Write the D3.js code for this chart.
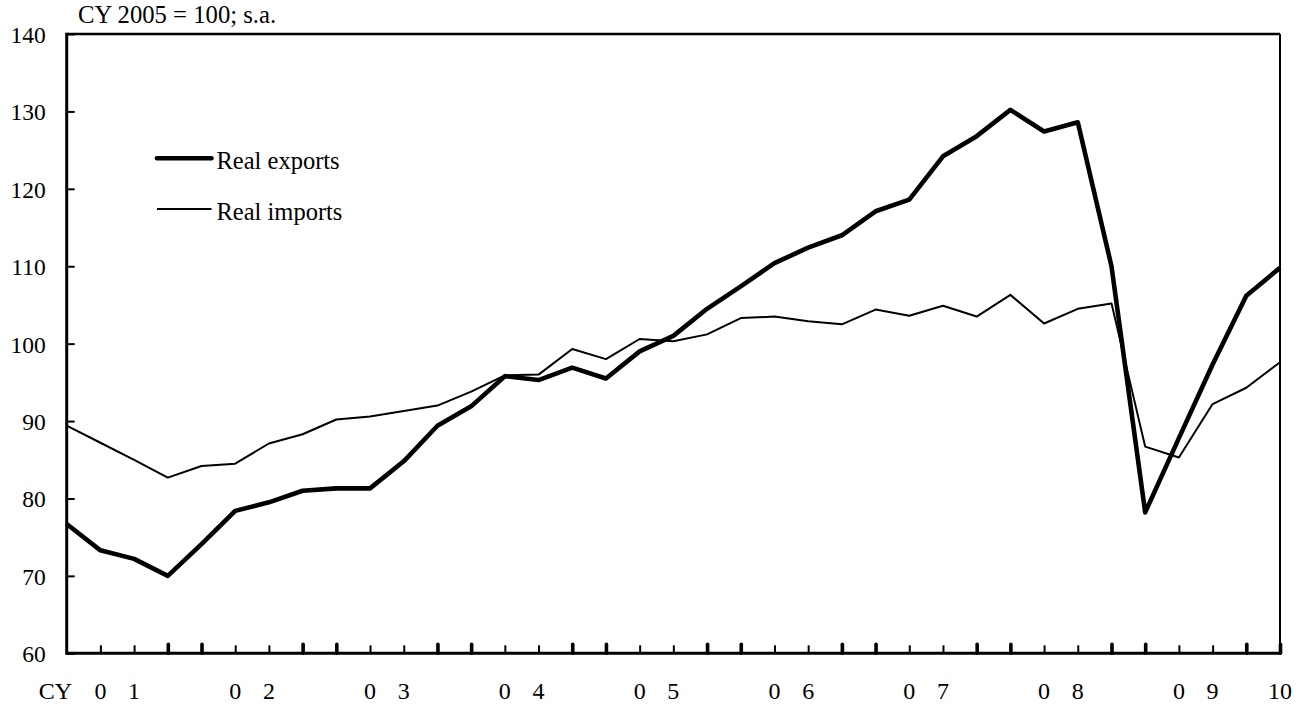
<!DOCTYPE html>
<html><head><meta charset="utf-8">
<script src="https://cdn.jsdelivr.net/npm/d3@7"></script>
<style>
body{margin:0;background:#fff;}
svg{display:block;}
text{font-family:"Liberation Serif","Times New Roman",serif;fill:#000;}
</style>
</head><body>
<svg id="c" width="1310" height="708"></svg>
<script>
// ---- data ----
const quarters = [
  "2001Q1","2001Q2","2001Q3","2001Q4",
  "2002Q1","2002Q2","2002Q3","2002Q4",
  "2003Q1","2003Q2","2003Q3","2003Q4",
  "2004Q1","2004Q2","2004Q3","2004Q4",
  "2005Q1","2005Q2","2005Q3","2005Q4",
  "2006Q1","2006Q2","2006Q3","2006Q4",
  "2007Q1","2007Q2","2007Q3","2007Q4",
  "2008Q1","2008Q2","2008Q3","2008Q4",
  "2009Q1","2009Q2","2009Q3","2009Q4",
  "2010Q1"
];
const realExports = [
  76.7, 73.3, 72.2, 70.0,
  74.1, 78.4, 79.5, 81.0,
  81.3, 81.3, 84.8, 89.4,
  91.9, 95.8, 95.3, 96.9,
  95.5, 99.0, 101.0, 104.5,
  107.4, 110.4, 112.4, 114.0,
  117.1, 118.6, 124.2, 126.8,
  130.2, 127.4, 128.6, 110.0,
  78.2, 87.8, 97.3, 106.2,
  109.8
];
const realImports = [
  89.4, 87.2, 85.0, 82.7,
  84.2, 84.5, 87.1, 88.3,
  90.2, 90.6, 91.3, 92.0,
  93.8, 95.9, 96.0, 99.3,
  98.0, 100.6, 100.3, 101.2,
  103.3, 103.5, 102.9, 102.5,
  104.4, 103.6, 104.9, 103.5,
  106.3, 102.6, 104.5, 105.2,
  86.7, 85.3, 92.2, 94.3,
  97.6
];
const yTicks = [60, 70, 80, 90, 100, 110, 120, 130, 140];
// year label digits placed on consecutive quarter ticks
const yearLabels = [
  {q:"2001Q2", t:"0"},{q:"2001Q3", t:"1"},
  {q:"2002Q2", t:"0"},{q:"2002Q3", t:"2"},
  {q:"2003Q2", t:"0"},{q:"2003Q3", t:"3"},
  {q:"2004Q2", t:"0"},{q:"2004Q3", t:"4"},
  {q:"2005Q2", t:"0"},{q:"2005Q3", t:"5"},
  {q:"2006Q2", t:"0"},{q:"2006Q3", t:"6"},
  {q:"2007Q2", t:"0"},{q:"2007Q3", t:"7"},
  {q:"2008Q2", t:"0"},{q:"2008Q3", t:"8"},
  {q:"2009Q2", t:"0"},{q:"2009Q3", t:"9"},
  {q:"2010Q1", t:"10"}
];
const seriesNames = ["Real exports", "Real imports"];
const unitLabel = "CY 2005 = 100; s.a.";
const axisPrefix = "CY";

// ---- layout ----
const L = 66.7, R = 1280, T = 34, B = 653.3;
const svg = d3.select("#c");
const x = d3.scalePoint().domain(quarters).range([L, R]);
const y = d3.scaleLinear().domain([60, 140]).range([B, T]);

// lines
const line = d3.line().x((d,i)=>x(quarters[i])).y(d=>y(d));
svg.append("path").datum(realImports).attr("d", line)
  .attr("fill","none").attr("stroke","#000").attr("stroke-width",2)
  .attr("stroke-linejoin","round");
svg.append("path").datum(realExports).attr("d", line)
  .attr("fill","none").attr("stroke","#000").attr("stroke-width",4.6)
  .attr("stroke-linejoin","round");

// y axis
const yAxis = d3.axisLeft(y).tickValues(yTicks).tickSize(-8).tickSizeOuter(0).tickPadding(21);
const gy = svg.append("g").attr("transform",`translate(${L},0)`).call(yAxis);
gy.select(".domain").remove();
gy.selectAll(".tick line").attr("stroke","#000").attr("stroke-width",2);
gy.selectAll(".tick text").attr("font-size",23.5).attr("dy","0.36em")
  .style("font-family",'"Liberation Serif","Times New Roman",serif');

// x axis ticks
const boldSet = new Set(quarters.filter(q=>q.endsWith("Q4")||q.endsWith("Q1")));
const xAxis = d3.axisBottom(x).tickValues(quarters.slice(1)).tickSize(-8).tickSizeOuter(0).tickFormat("");
const gx = svg.append("g").attr("transform",`translate(0,${B})`).call(xAxis);
gx.select(".domain").remove();
gx.selectAll(".tick line").attr("stroke","#000")
  .attr("stroke-width", d=>boldSet.has(d)?3.6:2)
  .attr("y2", d=>boldSet.has(d)?-9:-8)
  .attr("stroke-linecap", d=>boldSet.has(d)?"round":"butt");

// frame
svg.append("line").attr("x1",L).attr("x2",R).attr("y1",T).attr("y2",T).attr("stroke","#000").attr("stroke-width",2.5);
svg.append("line").attr("x1",R).attr("x2",R).attr("y1",T).attr("y2",B).attr("stroke","#000").attr("stroke-width",2);
svg.append("line").attr("x1",L).attr("x2",L).attr("y1",T-1.2).attr("y2",B+1.5).attr("stroke","#000").attr("stroke-width",3);
svg.append("line").attr("x1",L).attr("x2",R+1).attr("y1",B).attr("y2",B).attr("stroke","#000").attr("stroke-width",3);

// x labels
svg.selectAll("text.xl").data(yearLabels).enter().append("text").attr("class","xl")
  .attr("x", d=>x(d.q)).attr("y", 699).attr("text-anchor","middle").attr("font-size",24).text(d=>d.t);
svg.append("text").attr("x",55.5).attr("y",699).attr("text-anchor","middle").attr("font-size",24).text(axisPrefix);

// unit label
svg.append("text").attr("x",78).attr("y",22.5).attr("font-size",24.7).text(unitLabel);

// legend
const legY = [158.3, 209];
const legW = [4.6, 2];
seriesNames.forEach((n,i)=>{
  svg.append("line").attr("x1",157).attr("x2",211.5).attr("y1",legY[i]).attr("y2",legY[i])
    .attr("stroke","#000").attr("stroke-width",legW[i]).attr("stroke-linecap", i===0?"round":"butt");
  svg.append("text").attr("x",216.5).attr("y",legY[i]+10.5).attr("font-size",24.5).text(n);
});
</script>
</body></html>
